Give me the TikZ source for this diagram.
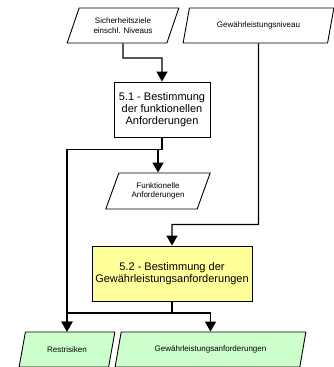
\documentclass[tikz,border=0pt]{standalone}
\usepackage{fontspec}
\setmainfont{Liberation Sans}
\usetikzlibrary{shapes.geometric,arrows.meta}
\definecolor{stepyellow}{HTML}{FFFF99}
\definecolor{resultgreen}{HTML}{CCFFCC}
\tikzset{
  x=1pt, y=-1pt,
  data/.style={trapezium, trapezium left angle=63, trapezium right angle=117,
    trapezium stretches=true, draw=black, line width=0.9pt, inner sep=0pt,
    minimum height=35pt, align=center, font=\fontsize{8}{9.8}\selectfont},
  stepbox/.style={rectangle, draw=black, line width=0.9pt, inner sep=0pt,
    minimum height=55pt, align=center},
  flow/.style={line width=1.4pt, -{Triangle[width=11pt,length=10pt]}},
  plain/.style={line width=1.4pt},
}
\begin{document}
\begin{tikzpicture}
\useasboundingbox (0,0) rectangle (334,367);

% inputs
\node[data, minimum width=112pt] (sz) at (123,25.5) {Sicherheitsziele\\einschl. Niveaus};
\node[data, minimum width=151pt] (gn) at (258.5,25.5) {Gewährleistungsniveau};

% process steps
\node[stepbox, minimum width=96pt, font=\fontsize{11}{11.8}\selectfont]
  (b51) at (162,109.5) {5.1 - Bestimmung\\der funktionellen\\Anforderungen};
\node[data, minimum width=105pt, minimum height=36pt] (fa) at (158,191) {Funktionelle\\Anforderungen};
\node[stepbox, fill=stepyellow, minimum width=160pt, font=\fontsize{11}{12.6}\selectfont]
  (b52) at (172,273.5) {5.2 - Bestimmung der\\Gewährleistungsanforderungen};

% results
\node[data, fill=resultgreen, minimum width=96pt] (rr) at (67,349.5) {Restrisiken};
\node[data, fill=resultgreen, minimum width=191pt] (ga) at (210.5,349.5) {Gewährleistungsanforderungen};

% junction points
\coordinate (jsz) at (123,58);
\coordinate (jgn) at (258.5,224.5);
\coordinate (j51) at (162,149.5);
\coordinate (j52) at (172,313);

% connectors
\draw[flow] (sz.south) -- (jsz) -| (b51.north);
\draw[flow] (gn.south) -- (jgn) -| (b52.north);
\draw[plain] (b51.south) -- (j51);
\draw[flow] (j51) -| (fa.north);
\draw[flow] (j51) -| (rr.north);
\draw[plain] (b52.south) -- (j52);
\draw[flow] (j52) -| (rr.north);
\draw[flow] (j52) -| (ga.north);
\end{tikzpicture}
\end{document}
